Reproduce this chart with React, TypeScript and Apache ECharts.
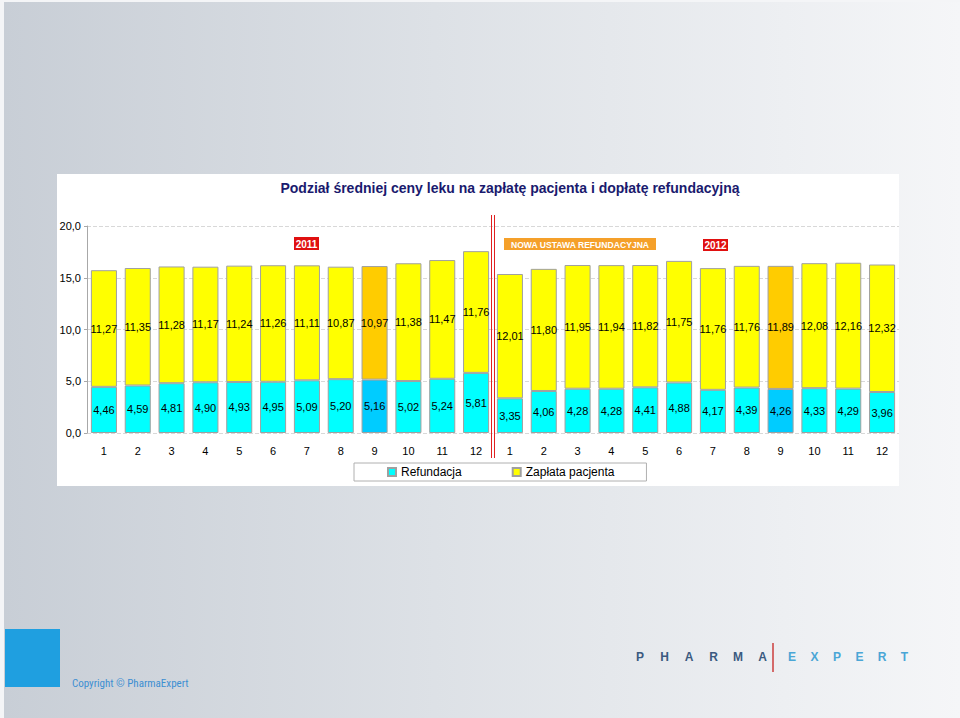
import React, { useEffect, useRef } from "react";
import * as echarts from "echarts";

const months = ["1", "2", "3", "4", "5", "6", "7", "8", "9", "10", "11", "12"];
const years = ["2011", "2012"];
const categories = years.flatMap((y) => months.map((m) => `${y}-${m}`));
const highlightMonth = "9";

const refundacja = [
  4.46, 4.59, 4.81, 4.9, 4.93, 4.95, 5.09, 5.2, 5.16, 5.02, 5.24, 5.81,
  3.35, 4.06, 4.28, 4.28, 4.41, 4.88, 4.17, 4.39, 4.26, 4.33, 4.29, 3.96,
];
const zaplataPacjenta = [
  11.27, 11.35, 11.28, 11.17, 11.24, 11.26, 11.11, 10.87, 10.97, 11.38, 11.47, 11.76,
  12.01, 11.8, 11.95, 11.94, 11.82, 11.75, 11.76, 11.76, 11.89, 12.08, 12.16, 12.32,
];
const yTicks = { min: 0, max: 20, interval: 5 };
const titleText = "Podział średniej ceny leku na zapłatę pacjenta i dopłatę refundacyjną";
const seriesNames = ["Refundacja", "Zapłata pacjenta"];

const FONT = "Liberation Sans, Arial, sans-serif";
const fmt = (v: number, d: number) => v.toFixed(d).replace(".", ",");

export default function App() {
  const ref = useRef<HTMLDivElement>(null);
  useEffect(() => {
    if (!ref.current) return;
    const chart = echarts.init(ref.current, undefined, { renderer: "svg" });
    const isHi = (i: number) => categories[i].split("-")[1] === highlightMonth;
    const mk = (vals: number[], hi: string) =>
      vals.map((v, i) => (isHi(i) ? { value: v, itemStyle: { color: hi } } : { value: v }));
    const label = {
      show: true,
      position: "inside",
      color: "#000",
      fontSize: 11,
      fontFamily: FONT,
      formatter: (p: any) => fmt(p.value, 2),
    };
    chart.setOption({
      animation: false,
      backgroundColor: "transparent",
      grid: { left: 87, right: 61, top: 226, bottom: 285, containLabel: false },
      legend: {
        left: 354,
        top: 463,
        data: seriesNames,
        icon: "rect",
        itemWidth: 8,
        itemHeight: 8,
        itemGap: 50,
        padding: [3, 32, 3, 33],
        borderColor: "#b0b0b0",
        borderWidth: 1,
        backgroundColor: "#fff",
        textStyle: { fontSize: 12, fontFamily: FONT, color: "#000" },
      },
      xAxis: {
        type: "category",
        data: categories,
        axisLine: { show: false },
        axisTick: { show: false },
        axisLabel: {
          color: "#000",
          fontSize: 11,
          fontFamily: FONT,
          margin: 12,
          interval: 0,
          formatter: (v: string) => v.split("-")[1],
        },
      },
      yAxis: {
        type: "value",
        min: yTicks.min,
        max: yTicks.max,
        interval: yTicks.interval,
        axisLine: { show: true, lineStyle: { color: "#a8a8a8" } },
        axisTick: { show: true, length: 3, lineStyle: { color: "#a8a8a8" } },
        axisLabel: {
          color: "#000",
          fontSize: 11,
          fontFamily: FONT,
          margin: 6,
          formatter: (v: number) => fmt(v, 1),
        },
        splitLine: { show: true, lineStyle: { color: "#d8d8d8", type: "dashed" } },
      },
      series: [
        {
          name: seriesNames[0],
          type: "bar",
          stack: "total",
          barCategoryGap: "23%",
          data: mk(refundacja, "#00ccff"),
          itemStyle: { color: "#00ffff", borderColor: "#a0a0a0", borderWidth: 1 },
          label,
        },
        {
          name: seriesNames[1],
          type: "bar",
          stack: "total",
          barCategoryGap: "23%",
          data: mk(zaplataPacjenta, "#ffcc00"),
          itemStyle: { color: "#ffff00", borderColor: "#a0a0a0", borderWidth: 1 },
          label,
        },
      ],
    });

    const x11 = chart.convertToPixel({ xAxisIndex: 0 }, categories[11]) as number;
    const x12 = chart.convertToPixel({ xAxisIndex: 0 }, categories[12]) as number;
    const sep = Math.round((x11 + x12) / 2);

    const txt = (x: number, y: number, text: string, fill: string, font: string, align = "left") => ({
      type: "text",
      x,
      y,
      style: {
        text,
        fill,
        font,
        align,
        verticalAlign: "middle",
        textAlign: align,
        textVerticalAlign: "middle",
      },
    });
    const box = (x: number, y: number, w: number, h: number, color: string, text: string, size = 10) => [
      { type: "rect", shape: { x, y, width: w, height: h }, style: { fill: color } },
      txt(x + w / 2, y + h / 2 + 0.5, text, "#fff", `bold ${size}px ${FONT}`, "center"),
    ];

    const pharma = "PHARMA".split("");
    const expert = "EXPERT".split("");
    const vline = (x: number) => ({
      type: "line",
      shape: { x1: x, y1: 215, x2: x, y2: 458 },
      style: { stroke: "#e02020", lineWidth: 1 },
    });

    chart.setOption({
      graphic: {
        elements: [
          txt(510, 188, titleText, "#1a1a6e", `bold 14px ${FONT}`, "center"),
          ...box(294, 237, 25, 13, "#e01010", "2011"),
          ...box(504, 238, 152, 12, "#f5a02a", "NOWA USTAWA REFUNDACYJNA", 8.6),
          ...box(703, 239, 25, 12, "#e01010", "2012"),
          vline(sep - 1.5),
          vline(sep + 1.5),
          { type: "rect", shape: { x: 5, y: 629, width: 55, height: 58 }, style: { fill: "#1f9fe0" } },
          txt(72, 683, "Copyright © PharmaExpert", "#3c8fd2", `11px "Roboto Condensed", Roboto, ${FONT}`),
          ...pharma.map((c, i) => txt(640 + i * 24.5, 657, c, "#3b5a80", `bold 12px ${FONT}`, "center")),
          { type: "rect", shape: { x: 772, y: 643, width: 2, height: 29 }, style: { fill: "#d46a6a" } },
          ...expert.map((c, i) => txt(792 + i * 22.5, 657, c, "#4aa6d6", `bold 12px ${FONT}`, "center")),
        ],
      },
    });
    return () => chart.dispose();
  }, []);

  return (
    <div
      style={{
        position: "absolute",
        left: 0,
        top: 0,
        width: 960,
        height: 718,
        background: "#f4f5f7",
        overflow: "hidden",
      }}
    >
      <div
        style={{
          position: "absolute",
          left: 4,
          top: 2,
          width: 956,
          height: 716,
          background: "linear-gradient(to right, #c8ced6 0%, #dde1e6 45%, #f5f6f8 100%)",
        }}
      />
      <div
        style={{
          position: "absolute",
          left: 57,
          top: 174,
          width: 842,
          height: 312,
          background: "#ffffff",
        }}
      />
      <div ref={ref} style={{ position: "absolute", left: 0, top: 0, width: 960, height: 718 }} />
    </div>
  );
}
